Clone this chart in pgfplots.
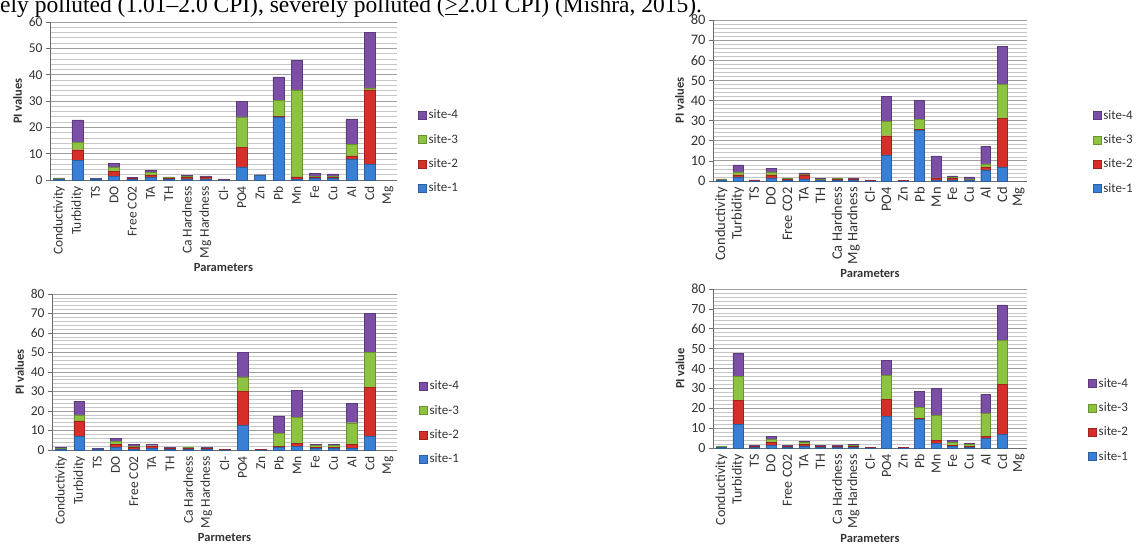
\documentclass[border=0pt]{standalone}
\usepackage{pgfplots}
\usepackage{pgfplotstable}
\pgfplotsset{compat=1.18}
\usepackage{fontspec}
\setmainfont{Carlito}
\newfontfamily\timesfont{Liberation Serif}
\definecolor{sone}{HTML}{3A7FD6}
\definecolor{stwo}{HTML}{D62E28}
\definecolor{sthree}{HTML}{8EC342}
\definecolor{sfour}{HTML}{7B4FA6}

% x: 0 Conductivity,1 Turbidity,2 TS,3 DO,4 Free CO2,5 TA,6 TH,7 Ca Hardness,8 Mg Hardness,9 Cl-,10 PO4,11 Zn,12 Pb,13 Mn,14 Fe,15 Cu,16 Al,17 Cd
\pgfplotstableread{
x  s1    s2    s3    s4
0  0.2   0.2   0.2   0.2
1  7.5   4.0   2.8   8.5
2  0.15  0.15  0.15  0.15
3  1.5   1.8   1.5   1.5
4  0.2   0.3   0.2   0.2
5  0.9   1.0   0.9   0.9
6  0.3   0.3   0.3   0.3
7  0.4   0.6   0.4   0.4
8  0.4   0.5   0.3   0.4
9  0.1   0.1   0.1   0.1
10 5.0   7.5   11.5  6.0
11 1.8   0.1   0.05  0.05
12 24.0  0.3   6.0   8.9
13 0.3   0.9   33.0  11.2
14 0.5   0.5   0.5   1.0
15 0.5   0.5   0.3   1.0
16 7.8   1.4   4.3   9.7
17 6.0   28.2  0.8   21.0
}\tabTL
\pgfplotstableread{
x  s1    s2    s3    s4
0  0.25  0.25  0.25  0.25
1  2.0   1.0   1.5   3.5
2  0.1   0.15  0.1   0.15
3  1.5   1.5   1.5   1.8
4  0.4   0.4   0.4   0.3
5  1.0   2.0   0.3   0.7
6  0.3   0.3   0.3   0.3
7  0.3   0.6   0.3   0.3
8  0.3   0.5   0.3   0.4
9  0.1   0.15  0.1   0.15
10 13.0  9.5   7.0   12.5
11 0.1   0.1   0.1   0.1
12 25.0  0.5   5.3   9.2
13 0.2   1.0   0.3   11.0
14 0.6   0.6   0.6   0.7
15 0.3   0.3   0.3   1.1
16 5.5   1.5   1.5   8.7
17 7.0   24.0  17.0  19.0
}\tabTR
\pgfplotstableread{
x  s1    s2    s3    s4
0  0.3   0.3   0.3   0.3
1  7.0   8.0   3.0   7.0
2  0.2   0.2   0.2   0.2
3  1.5   1.5   1.5   1.3
4  0.5   1.0   0.4   0.9
5  0.7   1.0   0.5   0.8
6  0.4   0.4   0.3   0.4
7  0.4   0.4   0.4   0.3
8  0.4   0.4   0.3   0.4
9  0.1   0.1   0.1   0.1
10 12.5  17.5  7.5   12.5
11 0.1   0.1   0.1   0.1
12 1.5   0.5   6.5   9.0
13 2.0   1.5   13.3  13.7
14 0.7   0.5   1.2   0.6
15 0.7   0.5   1.1   0.5
16 1.0   2.0   11.0  10.0
17 7.0   25.0  18.0  20.0
}\tabBL
\pgfplotstableread{
x  s1    s2    s3    s4
0  0.25  0.25  0.25  0.25
1  12.0  12.0  12.0  11.5
2  0.4   0.4   0.3   0.4
3  1.5   1.5   1.5   1.3
4  0.4   0.4   0.3   0.4
5  0.8   1.2   0.7   0.8
6  0.4   0.4   0.3   0.4
7  0.4   0.4   0.3   0.4
8  0.5   0.5   0.5   0.5
9  0.1   0.15  0.1   0.15
10 16.0  8.5   12.0  7.5
11 0.1   0.1   0.1   0.1
12 14.5  0.3   5.7   8.0
13 2.5   1.5   12.5  13.5
14 1.0   0.5   1.3   1.0
15 0.5   0.5   0.8   0.5
16 5.0   1.0   11.5  9.5
17 7.0   25.0  22.0  18.0
}\tabBR

\pgfplotsset{
  pichart/.style={
    scale only axis,
    ybar stacked,
    bar width=0.6,
    xmin=-0.5, xmax=18.5,
    xtick={0,...,18},
    xticklabels={Conductivity,Turbidity,TS,DO,Free CO2,TA,TH,Ca Hardness,Mg Hardness,Cl-,PO4,Zn,Pb,Mn,Fe,Cu,Al,Cd,Mg},
    x tick label style={rotate=90, anchor=east, inner sep=2pt},
    x tick style={draw=none},
    ymin=0, ytick distance=10,
    minor y tick num=4,
    ymajorgrids, yminorgrids,
    major grid style={draw=gray!75, line width=0.9pt},
    minor grid style={draw=gray!45, line width=0.7pt},
    axis x line*=bottom, axis y line*=left,
    axis line style={draw=gray!85!black, line width=0.7pt},
    y tick style={draw=gray!85!black, line width=0.7pt},
    tick align=outside, major tick length=4pt, minor tick length=0pt,
    /pgf/number format/assume math mode=true,
    yticklabel style={text=black!80},
    xticklabel style={text=black!80},
    reverse legend,
    legend cell align=left,
    legend style={draw=none, fill=none, anchor=west, row sep=10pt,
      font=\fontsize{13}{14}\selectfont, text=black!80},
    legend image code/.code={\draw[##1,/tikz/.cd] (0pt,-4pt) rectangle (8pt,4pt);},
    ylabel style={font=\bfseries\fontsize{12.5}{14}\selectfont, text=black!80},
    xlabel style={font=\bfseries\fontsize{12.5}{14}\selectfont, text=black!80},
  },
  b1/.style={fill=sone, draw=sone!75!black, line width=0.4pt},
  b2/.style={fill=stwo, draw=stwo!75!black, line width=0.4pt},
  b3/.style={fill=sthree, draw=sthree!75!black, line width=0.4pt},
  b4/.style={fill=sfour, draw=sfour!75!black, line width=0.4pt},
}

\begin{document}
\begin{tikzpicture}
\useasboundingbox (0pt,0pt) rectangle (1136pt,-546pt);
\node[anchor=base west, inner sep=0pt, font=\timesfont\fontsize{23.5}{26}\selectfont] at (0pt,-12.5pt)
  {ely polluted (1.01–2.0 CPI), severely polluted (\underline{>}2.01 CPI) (Mishra, 2015).};

% top left
\begin{axis}[pichart, at={(50pt,-180pt)}, anchor=south west,
  width=347pt, height=158pt, ymax=60,
  tick label style={font=\fontsize{13.5}{15}\selectfont},
  ylabel={PI values}, xlabel={Parameters},
  legend style={at={(1.052,0.18)}}]
\addplot[b1] table[x=x,y=s1]{\tabTL};
\addplot[b2] table[x=x,y=s2]{\tabTL};
\addplot[b3] table[x=x,y=s3]{\tabTL};
\addplot[b4] table[x=x,y=s4]{\tabTL};
\legend{site-1,site-2,site-3,site-4}
\end{axis}

% top right
\begin{axis}[pichart, at={(713pt,-181pt)}, anchor=south west,
  width=314pt, height=161pt, ymax=80,
  tick label style={font=\fontsize{14.5}{16}\selectfont},
  ylabel={PI values}, xlabel={Parameters},
  legend style={at={(1.2,0.18)}}]
\addplot[b1] table[x=x,y=s1]{\tabTR};
\addplot[b2] table[x=x,y=s2]{\tabTR};
\addplot[b3] table[x=x,y=s3]{\tabTR};
\addplot[b4] table[x=x,y=s4]{\tabTR};
\legend{site-1,site-2,site-3,site-4}
\end{axis}

% bottom left
\begin{axis}[pichart, at={(52pt,-450pt)}, anchor=south west,
  width=345pt, height=156pt, ymax=80,
  tick label style={font=\fontsize{13.5}{15}\selectfont},
  ylabel={PI values}, xlabel={Parmeters},
  legend style={at={(1.055,0.176)}}]
\addplot[b1] table[x=x,y=s1]{\tabBL};
\addplot[b2] table[x=x,y=s2]{\tabBL};
\addplot[b3] table[x=x,y=s3]{\tabBL};
\addplot[b4] table[x=x,y=s4]{\tabBL};
\legend{site-1,site-2,site-3,site-4}
\end{axis}

% bottom right
\begin{axis}[pichart, at={(713pt,-448pt)}, anchor=south west,
  width=314pt, height=159pt, ymax=80,
  tick label style={font=\fontsize{14}{16}\selectfont},
  ylabel={PI value}, xlabel={Parameters},
  legend style={at={(1.185,0.176)}}]
\addplot[b1] table[x=x,y=s1]{\tabBR};
\addplot[b2] table[x=x,y=s2]{\tabBR};
\addplot[b3] table[x=x,y=s3]{\tabBR};
\addplot[b4] table[x=x,y=s4]{\tabBR};
\legend{site-1,site-2,site-3,site-4}
\end{axis}
\end{tikzpicture}
\end{document}
